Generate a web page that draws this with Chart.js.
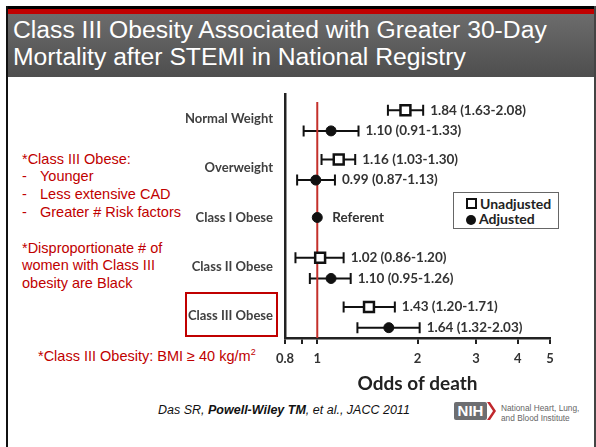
<!DOCTYPE html>
<html>
<head>
<meta charset="utf-8">
<script src="https://cdn.jsdelivr.net/npm/chart.js@4/dist/chart.umd.min.js"></script>
<style>
  html, body { margin: 0; padding: 0; background: #fff; }
  #slide { position: relative; width: 596px; height: 447px; overflow: hidden; font-family: "Liberation Sans", Arial, sans-serif; }
  .abs { position: absolute; }
  #topbar { left: 6px; top: 6px; width: 590px; height: 3px; background: #000; }
  #redbar { left: 8px; top: 9px; width: 586px; height: 5px; background: #c00000; }
  #band { left: 8px; top: 14px; width: 586px; height: 63px; background: linear-gradient(to bottom, #6c6c6c, #4e4e4e); }
  #leftline { left: 6px; top: 6px; width: 2px; height: 441px; background: #111; }
  #rightline { left: 594px; top: 6px; width: 2px; height: 441px; background: #444; }
  #title { left: 13px; top: 16px; color: #fff; font-size: 24.7px; line-height: 27px; white-space: nowrap; }
  .red { color: #c00000; font-size: 14.5px; line-height: 17.7px; white-space: nowrap; }
  .dash { display: inline-block; width: 18px; }
  #chartWrap { left: 170px; top: 85px; width: 426px; height: 310px; }
  #redbox { left: 185px; top: 292px; width: 89px; height: 41px; border: 2px solid #c00000; }
  #legend { left: 453px; top: 192px; width: 104px; height: 35px; border: 1.5px solid #666; background: #fff;
            font-family: Lato, sans-serif; font-weight: bold; font-size: 14px; color: #222; }
  .litem { position: absolute; left: 12px; height: 15px; line-height: 15px; white-space: nowrap; }
  .sq { display: inline-block; width: 7px; height: 7px; border: 2px solid #111; margin-right: 3px; vertical-align: 0px; }
  .dot { display: inline-block; width: 10px; height: 10px; border-radius: 50%; background: #111; margin-right: 3px; vertical-align: -1px; }
  #cite { left: 158px; top: 403px; font-size: 12.5px; line-height: 15px; font-style: italic; color: #111; white-space: nowrap; }
  #nihbox { left: 454px; top: 402px; width: 33px; height: 18px; background: #6d6e71; border-radius: 2px;
            color: #fff; font-weight: bold; font-size: 15px; line-height: 18px; text-align: center; }
  #nihtext { left: 501px; top: 403px; font-size: 8.3px; line-height: 10px; color: #666; white-space: nowrap; }
</style>
</head>
<body>
<div id="slide">
  <div class="abs" id="band"></div>
  <div class="abs" id="topbar"></div>
  <div class="abs" id="redbar"></div>
  <div class="abs" id="leftline"></div>
  <div class="abs" id="rightline"></div>
  <div class="abs" id="title">Class III Obesity Associated with Greater 30-Day<br>Mortality after STEMI in National Registry</div>

  <div class="abs red" style="left:22px; top:150.5px;">
    *Class III Obese:<br>
    <span class="dash">-</span>Younger<br>
    <span class="dash">-</span>Less extensive CAD<br>
    <span class="dash">-</span>Greater # Risk factors
  </div>
  <div class="abs red" style="left:22px; top:239.5px;">
    *Disproportionate # of<br>women with Class III<br>obesity are Black
  </div>
  <div class="abs red" style="left:38px; top:348px;">*Class III Obesity: BMI ≥ 40 kg/m<sup style="font-size:9px; line-height:0;">2</sup></div>

  <div class="abs" id="chartWrap"><canvas id="forest" width="426" height="310"></canvas></div>
  <div class="abs" id="redbox"></div>
  <div class="abs" id="legend">
    <div class="litem" style="top:3px;"><span class="sq"></span>Unadjusted</div>
    <div class="litem" style="top:18px;"><span class="dot"></span>Adjusted</div>
  </div>

  <div class="abs" id="cite">Das SR, <b>Powell-Wiley TM</b>, et al., JACC 2011</div>
  <div class="abs" id="nihbox">NIH</div>
  <svg class="abs" style="left:487px; top:402px;" width="9" height="18"><polygon points="0,0 3,0 9,9 3,18 0,18 6,9" fill="#c0282d"/></svg>
  <div class="abs" id="nihtext">National Heart, Lung,<br>and Blood Institute</div>
</div>

<script>
const categories = ['Normal Weight', 'Overweight', 'Class I Obese', 'Class II Obese', 'Class III Obese'];
const unadjOR   = [1.84, 1.16, null, 1.02, 1.43];
const unadjLow  = [1.63, 1.03, null, 0.86, 1.20];
const unadjHigh = [2.08, 1.30, null, 1.20, 1.71];
const adjOR     = [1.10, 0.99, 1.00, 1.10, 1.64];
const adjLow    = [0.91, 0.87, null, 0.95, 1.32];
const adjHigh   = [1.33, 1.13, null, 1.26, 2.03];
const referentIndex = 2;
const xTicks = [0.8, 0.9, 1, 2, 3, 4, 5];

const labelFont = 'bold 13.5px Lato, sans-serif';

// build point lists (unadjusted sits a bit above the row, adjusted a bit below)
function buildPoints(vals, lows, highs, shift) {
    const pts = [];
    vals.forEach((v, i) => {
        if (v == null) return;
        const isRef = i === referentIndex;
        pts.push({ x: v, y: isRef ? i : i + shift, lo: lows[i], hi: highs[i], ref: isRef });
    });
    return pts;
}
const unadjPoints = buildPoints(unadjOR, unadjLow, unadjHigh, -0.18);
const adjPoints = buildPoints(adjOR, adjLow, adjHigh, 0.24);

// draws the CI whiskers and the value text next to them
const errorBars = {
    id: 'errorBars',
    beforeDatasetsDraw(chart) {
        const { ctx, scales: { x, y } } = chart;
        ctx.save();
        ctx.strokeStyle = '#111';
        ctx.lineWidth = 2;
        chart.data.datasets.forEach(ds => {
            if (!ds.withCI) return;
            ds.data.forEach(p => {
                if (p.lo == null) return;
                const py = y.getPixelForValue(p.y);
                const x0 = x.getPixelForValue(p.lo);
                const x1 = x.getPixelForValue(p.hi);
                ctx.beginPath();
                ctx.moveTo(x0, py); ctx.lineTo(x1, py);
                ctx.moveTo(x0, py - 5.5); ctx.lineTo(x0, py + 5.5);
                ctx.moveTo(x1, py - 5.5); ctx.lineTo(x1, py + 5.5);
                ctx.stroke();
            });
        });
        ctx.restore();
    },
    afterDatasetsDraw(chart) {
        const { ctx, scales: { x, y } } = chart;
        ctx.save();
        ctx.font = labelFont;
        ctx.fillStyle = '#333';
        ctx.textBaseline = 'middle';
        chart.data.datasets.forEach(ds => {
            if (!ds.withCI) return;
            ds.data.forEach(p => {
                const py = y.getPixelForValue(p.y);
                if (p.ref) {
                    ctx.fillText('Referent', x.getPixelForValue(p.x) + 15, py);
                    return;
                }
                const txt = `${p.x.toFixed(2)} (${p.lo.toFixed(2)}-${p.hi.toFixed(2)})`;
                ctx.fillText(txt, x.getPixelForValue(p.hi) + 7, py);
            });
        });
        ctx.restore();
    }
};

new Chart(document.getElementById('forest'), {
    type: 'scatter',
    data: {
        datasets: [
            {
                label: 'No effect',
                type: 'line',
                data: [{ x: 1, y: -0.35 }, { x: 1, y: 4.45 }],
                borderColor: '#c4302b',
                borderWidth: 2,
                pointRadius: 0,
                order: 5
            },
            {
                label: 'Unadjusted',
                data: unadjPoints,
                pointStyle: 'rect',
                pointRadius: 7,
                backgroundColor: '#fff',
                borderColor: '#111',
                borderWidth: 2.5,
                withCI: true,
                order: 1
            },
            {
                label: 'Adjusted',
                data: adjPoints,
                pointStyle: 'circle',
                pointRadius: 5,
                backgroundColor: '#111',
                borderColor: '#111',
                borderWidth: 1,
                withCI: true,
                order: 1
            }
        ]
    },
    options: {
        responsive: false,
        animation: false,
        layout: { padding: { top: 8, right: 46, left: 0, bottom: 0 } },
        plugins: { legend: { display: false }, tooltip: { enabled: false } },
        scales: {
            x: {
                type: 'logarithmic',
                min: 0.8,
                max: 5,
                afterBuildTicks: s => { s.ticks = xTicks.map(v => ({ value: v })); },
                afterFit: s => { s.height = 57; },
                ticks: {
                    autoSkip: false,
                    maxRotation: 0,
                    padding: 7,
                    color: '#333',
                    font: { family: 'Lato', size: 13, weight: 'bold' },
                    callback: v => (v === 0.9 ? '' : String(v))
                },
                grid: { drawOnChartArea: false, tickLength: 6, color: '#222', lineWidth: 2 },
                border: { color: '#222', width: 2.5 },
                title: {
                    display: true,
                    text: 'Odds of death',
                    color: '#222',
                    font: { family: 'Lato', size: 19, weight: 'bold' },
                    padding: { top: 0, bottom: 0 }
                }
            },
            y: {
                type: 'linear',
                reverse: true,
                min: -0.5,
                max: 4.45,
                afterBuildTicks: s => { s.ticks = categories.map((c, i) => ({ value: i })); },
                afterFit: s => { s.width = 115; s.paddingTop = 0; s.paddingBottom = 0; },
                ticks: {
                    autoSkip: false,
                    padding: 4,
                    color: '#404040',
                    font: { family: 'Lato', size: 13, weight: 'bold' },
                    callback: v => categories[v]
                },
                grid: { display: false },
                border: { display: true, color: '#222', width: 2.5 }
            }
        }
    },
    plugins: [errorBars]
});
</script>
</body>
</html>
